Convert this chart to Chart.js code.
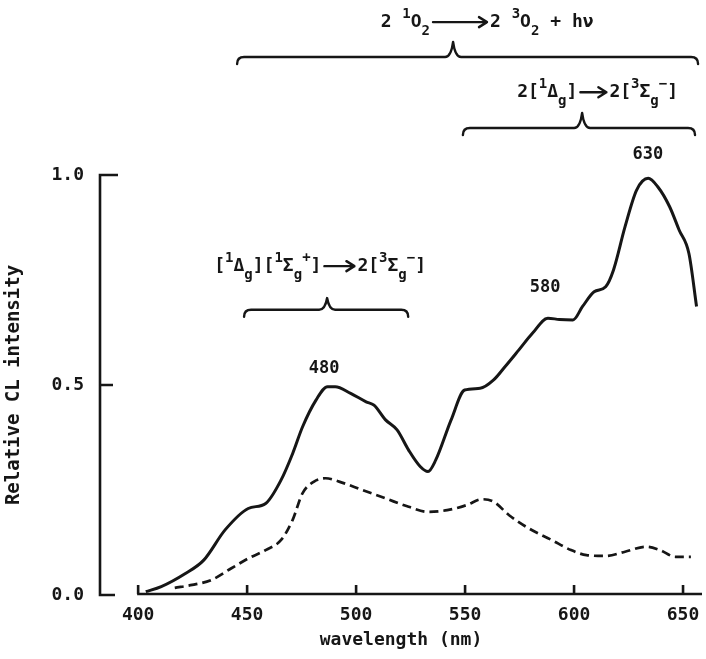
<!DOCTYPE html>
<html>
<head>
<meta charset="utf-8">
<script src="https://cdn.jsdelivr.net/npm/chart.js"></script>
<style>
  html, body { margin: 0; padding: 0; background: #fff; }
  #wrap { position: relative; width: 706px; height: 659px; }
</style>
</head>
<body>
<div id="wrap"><canvas id="cl_chart"></canvas></div>
<script>
// values
const solidWavelength = [403.5, 410.6, 421.3, 430.1, 439.9, 450.5, 458.5, 465.6, 470.9, 475.4, 481.6, 486.9, 490.4, 497.5, 504.6, 508.2, 513.5, 518.8, 524.1, 529.4, 533.0, 536.5, 543.6, 549.8, 556.9, 563.1, 568.4, 574.6, 580.9, 588.0, 593.3, 599.5, 603.9, 609.2, 614.5, 618.1, 623.4, 628.7, 634.0, 638.4, 643.8, 648.2, 652.7, 656.2];
const solidIntensity = [0.008, 0.02, 0.05, 0.083, 0.155, 0.206, 0.218, 0.274, 0.337, 0.40, 0.464, 0.496, 0.496, 0.48, 0.46, 0.452, 0.417, 0.393, 0.345, 0.306, 0.294, 0.321, 0.417, 0.488, 0.492, 0.512, 0.544, 0.583, 0.623, 0.659, 0.656, 0.655, 0.687, 0.722, 0.734, 0.774, 0.877, 0.964, 0.992, 0.972, 0.925, 0.869, 0.813, 0.687];

const dashedWavelength = [416.8, 424.8, 433.7, 442.6, 450.5, 458.5, 465.6, 470.9, 475.4, 480.7, 486.0, 492.2, 502.8, 513.5, 524.1, 533.0, 541.8, 550.7, 557.8, 563.1, 570.2, 579.1, 589.7, 598.6, 605.7, 614.5, 623.4, 633.2, 639.4, 646.5, 653.6];
const dashedIntensity = [0.017, 0.024, 0.036, 0.063, 0.087, 0.107, 0.131, 0.179, 0.242, 0.27, 0.278, 0.27, 0.25, 0.23, 0.21, 0.198, 0.202, 0.214, 0.228, 0.222, 0.19, 0.159, 0.131, 0.107, 0.095, 0.093, 0.103, 0.115, 0.107, 0.091, 0.091];

const xTicks = [400, 450, 500, 550, 600, 650];
const yTicks = [0.0, 0.5, 1.0];

// peak labels: [text, wavelength, intensity]
const peakLabels = [
  ["480", 485.3, 0.540],
  ["580", 586.7, 0.731],
  ["630", 633.9, 1.048],
];

// transition braces: from, to, cusp, line level, cusp level (data units)
const braces = [
  { from: 445.4, to: 656.9, mid: 544.5, level: 1.281, tip: 1.317 },
  { from: 549.0, to: 655.5, mid: 603.7, level: 1.112, tip: 1.148 },
  { from: 448.6, to: 523.9, mid: 486.7, level: 0.679, tip: 0.707 },
];

// transition formulas, as runs of plain / sup / sub text and arrows
const formulas = [
  {
    at: [560.1, 1.364],
    parts: [
      { t: "2 " }, { t: "1", sup: true }, { t: "O" }, { t: "2", sub: true },
      { arrow: 60 },
      { t: "2 " }, { t: "3", sup: true }, { t: "O" }, { t: "2", sub: true },
      { t: " + hν" },
    ],
  },
  {
    at: [610.8, 1.197],
    parts: [
      { t: "2[" }, { t: "1", sup: true }, { t: "Δ" }, { t: "g", sub: true }, { t: "]" },
      { arrow: 32 },
      { t: "2[" }, { t: "3", sup: true }, { t: "Σ" }, { t: "g", sub: true }, { t: "−", sup: true }, { t: "]" },
    ],
  },
  {
    at: [483.5, 0.783],
    parts: [
      { t: "[" }, { t: "1", sup: true }, { t: "Δ" }, { t: "g", sub: true }, { t: "][" },
      { t: "1", sup: true }, { t: "Σ" }, { t: "g", sub: true }, { t: "+", sup: true }, { t: "]" },
      { arrow: 36 },
      { t: "2[" }, { t: "3", sup: true }, { t: "Σ" }, { t: "g", sub: true }, { t: "−", sup: true }, { t: "]" },
    ],
  },
];

const INK = "#161616";
const FAMILY = '"DejaVu Sans Mono", monospace';

function toPoints(xs, ys) {
  return xs.map((v, i) => ({ x: v, y: ys[i] }));
}

function drawArrow(ctx, x1, x2, y) {
  ctx.beginPath();
  ctx.moveTo(x1, y);
  ctx.lineTo(x2, y);
  ctx.moveTo(x2 - 8, y - 5);
  ctx.lineTo(x2, y);
  ctx.lineTo(x2 - 8, y + 5);
  ctx.stroke();
}

function drawRich(ctx, parts, cx, cy, size) {
  const small = Math.round(size * 0.8);
  let width = 0;
  parts.forEach((p) => {
    if (p.arrow) {
      width += p.arrow;
    } else {
      ctx.font = "bold " + (p.sup || p.sub ? small : size) + "px " + FAMILY;
      width += ctx.measureText(p.t).width;
    }
  });

  let x = cx - width / 2;
  ctx.textAlign = "left";
  ctx.textBaseline = "middle";
  parts.forEach((p) => {
    if (p.arrow) {
      drawArrow(ctx, x + 3, x + p.arrow - 3, cy);
      x += p.arrow;
      return;
    }
    ctx.font = "bold " + (p.sup || p.sub ? small : size) + "px " + FAMILY;
    const dy = p.sup ? -size * 0.45 : p.sub ? size * 0.5 : 0;
    ctx.fillText(p.t, x, cy + dy);
    x += ctx.measureText(p.t).width;
  });
}

function drawBrace(ctx, x1, x2, xm, y, tipY) {
  const hook = 7;
  ctx.beginPath();
  ctx.moveTo(x1, y + hook);
  ctx.quadraticCurveTo(x1, y, x1 + hook, y);
  ctx.lineTo(xm - 8, y);
  ctx.quadraticCurveTo(xm - 2, y, xm, tipY);
  ctx.quadraticCurveTo(xm + 2, y, xm + 8, y);
  ctx.lineTo(x2 - hook, y);
  ctx.quadraticCurveTo(x2, y, x2, y + hook);
  ctx.stroke();
}

// hand-drawn style axes: detached y bar and x baseline
const inkAxes = {
  id: "inkAxes",
  afterDraw(chart) {
    const { ctx, chartArea, scales } = chart;
    const x = scales.x;
    const y = scales.y;
    const left = chartArea.left;
    ctx.save();
    ctx.strokeStyle = INK;
    ctx.lineWidth = 2.6;

    ctx.beginPath();
    ctx.moveTo(left + 18, y.getPixelForValue(1));
    ctx.lineTo(left, y.getPixelForValue(1));
    ctx.lineTo(left, y.getPixelForValue(0));
    ctx.lineTo(left + 15, y.getPixelForValue(0));
    ctx.moveTo(left, y.getPixelForValue(0.5));
    ctx.lineTo(left + 13, y.getPixelForValue(0.5));
    ctx.stroke();

    const base = y.getPixelForValue(0) - 1;
    ctx.beginPath();
    ctx.moveTo(x.getPixelForValue(400) - 1, base);
    ctx.lineTo(chartArea.right, base);
    xTicks.forEach((v) => {
      ctx.moveTo(x.getPixelForValue(v), base);
      ctx.lineTo(x.getPixelForValue(v), base - 9);
    });
    ctx.stroke();
    ctx.restore();
  },
};

const annotations = {
  id: "annotations",
  afterDraw(chart) {
    const { ctx, scales } = chart;
    const x = scales.x;
    const y = scales.y;
    ctx.save();
    ctx.fillStyle = INK;
    ctx.strokeStyle = INK;
    ctx.lineWidth = 2.4;
    ctx.lineJoin = "round";
    ctx.lineCap = "round";

    braces.forEach((b) => {
      drawBrace(
        ctx,
        x.getPixelForValue(b.from),
        x.getPixelForValue(b.to),
        x.getPixelForValue(b.mid),
        y.getPixelForValue(b.level),
        y.getPixelForValue(b.tip),
      );
    });

    formulas.forEach((f) => {
      drawRich(ctx, f.parts, x.getPixelForValue(f.at[0]), y.getPixelForValue(f.at[1]), 18);
    });

    ctx.font = "bold 17px " + FAMILY;
    ctx.textAlign = "center";
    ctx.textBaseline = "middle";
    peakLabels.forEach(([txt, wl, val]) => {
      ctx.fillText(txt, x.getPixelForValue(wl), y.getPixelForValue(val));
    });
    ctx.restore();
  },
};

function createSpectrumChart() {
  const data = {
    datasets: [
      {
        label: "solid",
        data: toPoints(solidWavelength, solidIntensity),
        borderColor: INK,
        borderWidth: 3,
        pointRadius: 0,
        cubicInterpolationMode: "monotone",
        fill: false,
      },
      {
        label: "dashed",
        data: toPoints(dashedWavelength, dashedIntensity),
        borderColor: INK,
        borderWidth: 2.7,
        borderDash: [9, 5],
        pointRadius: 0,
        cubicInterpolationMode: "monotone",
        fill: false,
      },
    ],
  };

  const tickFont = { family: FAMILY, size: 18, weight: "bold" };

  const config = {
    type: "line",
    data,
    options: {
      responsive: true,
      maintainAspectRatio: false,
      animation: false,
      layout: { padding: { top: 175, right: 4, left: 0, bottom: 0 } },
      plugins: { legend: { display: false }, tooltip: { enabled: false } },
      scales: {
        x: {
          type: "linear",
          min: 382.5,
          max: 658.7,
          grid: { display: false },
          border: { display: false },
          afterBuildTicks: (s) => {
            s.ticks = xTicks.map((v) => ({ value: v }));
          },
          afterFit: (s) => {
            s.height = 64;
          },
          ticks: { font: tickFont, color: INK, padding: 2, maxRotation: 0 },
          title: {
            display: true,
            text: "wavelength (nm)",
            font: tickFont,
            color: INK,
            padding: { top: 0, bottom: 8 },
          },
        },
        y: {
          min: 0,
          max: 1,
          grid: { display: false },
          border: { display: false },
          afterBuildTicks: (s) => {
            s.ticks = yTicks.map((v) => ({ value: v }));
          },
          afterFit: (s) => {
            s.width = 100;
          },
          ticks: {
            font: tickFont,
            color: INK,
            padding: 8,
            callback: (v) => Number(v).toFixed(1),
          },
          title: {
            display: true,
            text: "Relative CL intensity",
            font: { family: FAMILY, size: 19, weight: "bold" },
            color: INK,
            padding: { top: 3, bottom: 0 },
          },
        },
      },
    },
    plugins: [inkAxes, annotations],
  };

  new Chart(document.getElementById("cl_chart"), config);
}

window.addEventListener("DOMContentLoaded", function () {
  createSpectrumChart();
});
</script>
</body>
</html>
